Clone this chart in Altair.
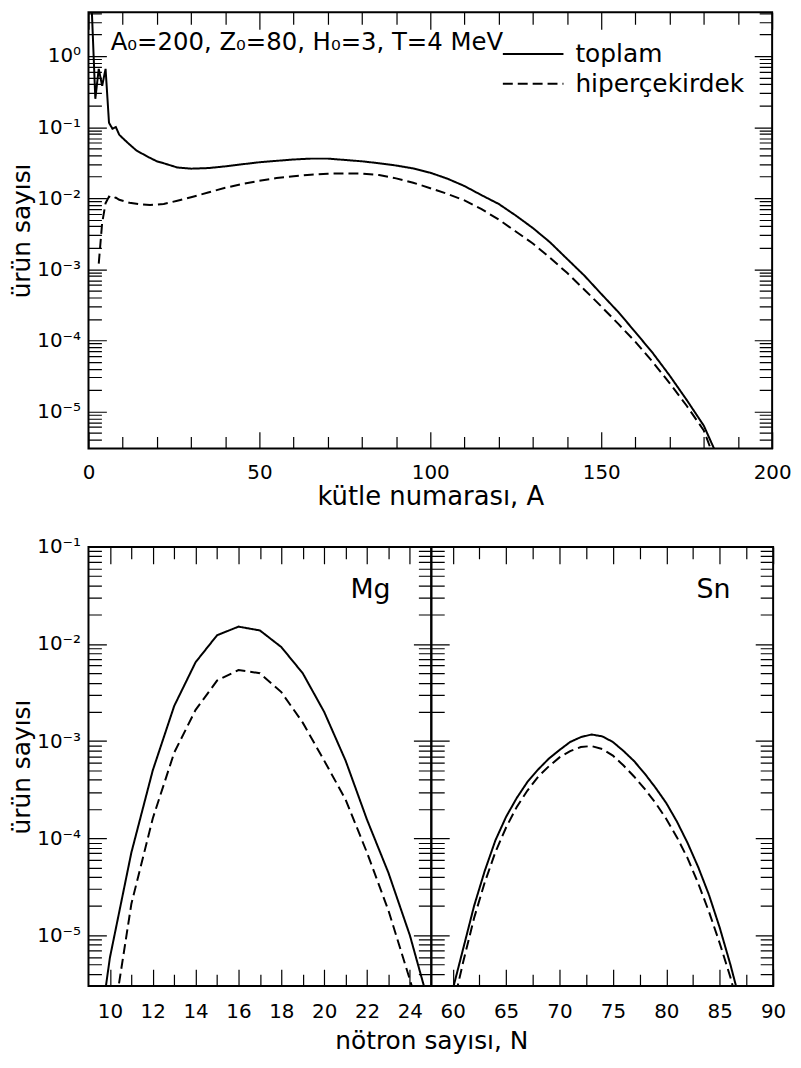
import altair as alt
import pandas as pd

FONT = "DejaVu Sans"

# ---------------- data: top panel (vs mass number A) ----------------
top_total_A = [1, 2, 3, 4, 5, 6, 7, 8, 9, 10, 12, 14, 17, 20, 22, 26, 30,
               35, 40, 45, 50, 55, 60, 65, 70, 75, 80, 85, 90, 95, 100, 105, 110,
               115, 120, 125, 130, 135, 140, 145, 150, 155, 160, 165, 170, 175, 180, 183]
top_total = [4.1, 0.25, 0.66, 0.38, 0.66, 0.115, 0.095, 0.10, 0.078, 0.07,
             0.057, 0.047, 0.039, 0.033, 0.031, 0.027, 0.026,
             0.0265, 0.028, 0.030, 0.032, 0.0335, 0.035, 0.036, 0.036, 0.0345, 0.033,
             0.031, 0.0288, 0.0262, 0.0228, 0.0188, 0.0148, 0.011, 0.0083, 0.0057, 0.0038,
             0.0024, 0.0014, 8.2e-4, 4.5e-4, 2.5e-4, 1.3e-4, 6.7e-5, 3.2e-5, 1.45e-5,
             6.3e-6, 3.0e-6]
top_hyper_A = [3, 4, 5, 6, 7, 8, 9, 10, 12, 15, 18, 22, 26, 30,
               35, 40, 45, 50, 55, 60, 65, 70, 75, 80, 85, 90, 95, 100, 105, 110,
               115, 120, 125, 130, 135, 140, 145, 150, 155, 160, 165, 170, 175, 180, 182]
top_hyper = [1.2e-3, 4.5e-3, 8.5e-3, 0.0105, 0.0098, 0.0102, 0.0095, 0.0092,
             0.0086, 0.0082, 0.0080, 0.0083, 0.0092, 0.0103,
             0.012, 0.014, 0.0158, 0.0176, 0.0192, 0.0204, 0.0214, 0.0221, 0.0223,
             0.0222, 0.0212, 0.019, 0.0165, 0.0138, 0.0115, 0.0093, 0.0070, 0.0050,
             0.0034, 0.0023, 0.00145, 8.9e-4, 5.2e-4, 3.0e-4, 1.7e-4, 9.5e-5, 5.0e-5,
             2.5e-5, 1.2e-5, 5.4e-6, 3.0e-6]

# ---------------- data: Mg isotopes (vs neutron number N) ----------------
mg_total_N = list(range(9, 26))
mg_total = [1.6e-7, 5.9e-6, 7.1e-5, 5.0e-4, 2.3e-3, 6.5e-3, 1.23e-2, 1.51e-2,
            1.38e-2, 9.3e-3, 5.0e-3, 2.0e-3, 6.3e-4, 1.55e-4, 4.4e-5, 1.0e-5, 1.6e-6]
mg_hyper_N = list(range(10, 26))
mg_hyper = [7.9e-7, 2.1e-5, 1.6e-4, 7.6e-4, 2.1e-3, 4.2e-3, 5.4e-3, 5.0e-3,
            3.2e-3, 1.55e-3, 6.3e-4, 2.5e-4, 7.1e-5, 1.8e-5, 3.5e-6, 6.3e-7]

# ---------------- data: Sn isotopes ----------------
sn_total_N = list(range(59, 88))
sn_total = [7.9e-7, 2.75e-6, 7.4e-6, 2.0e-5, 4.6e-5,
            9.5e-5, 1.66e-4, 2.6e-4, 3.8e-4, 5.1e-4, 6.6e-4, 8.1e-4, 9.8e-4, 1.10e-3, 1.17e-3,
            1.12e-3, 9.8e-4, 7.9e-4, 6.2e-4, 4.6e-4, 3.3e-4, 2.3e-4, 1.48e-4, 8.9e-5,
            5.0e-5, 2.6e-5, 1.2e-5, 5.0e-6, 1.9e-6]
sn_hyper_N = list(range(60, 88))
sn_hyper = [1.8e-6, 5.4e-6, 1.5e-5, 3.5e-5, 7.2e-5, 1.29e-4, 2.1e-4, 3.1e-4, 4.3e-4,
            5.5e-4, 6.8e-4, 7.9e-4, 8.7e-4, 8.9e-4, 8.3e-4, 7.1e-4, 5.6e-4, 4.3e-4,
            3.2e-4, 2.3e-4, 1.58e-4, 1.02e-4, 6.2e-5, 3.4e-5, 1.74e-5, 8.3e-6, 3.7e-6, 1.4e-6]

series_names = ["toplam", "hiperçekirdek"]
annotation = "A₀=200, Z₀=80, H₀=3, T=4 MeV"
panel_labels = ["Mg", "Sn"]

# tick values
top_x_ticks = list(range(0, 201, 10))
mg_x_ticks = list(range(10, 25))
sn_x_ticks = [60 + 2.5 * i for i in range(13)]
top_y_ticks = [m * 10.0 ** e for e in range(-6, 1) for m in range(1, 10)
               if 3.05e-6 < m * 10.0 ** e < 4.1]
bot_y_ticks = [m * 10.0 ** e for e in range(-6, 0) for m in range(1, 10)
               if 3.05e-6 < m * 10.0 ** e < 0.101]

# ---------------- geometry ----------------
TOP_W, TOP_H = 688, 439
MG_W, SN_W, BOT_H = 345, 344, 442
LABEL_SIZE = 20

IS_DECADE = "abs(log(datum.value)/LN10 - round(log(datum.value)/LN10)) < 0.01"
DECADE_LABEL = ("abs(log(datum.value)/LN10 - round(log(datum.value)/LN10)) < 0.01 ? "
                "'10' + ['⁰','⁻¹','⁻²','⁻³','⁻⁴','⁻⁵','⁻⁶'][-round(log(datum.value)/LN10)] : ''")


def dash(length, tick):
    return [tick, length - 2 * tick, tick]


def common_axis_kw(major_test):
    return dict(domain=False, ticks=False, grid=True, gridColor="black", gridOpacity=1,
                gridWidth=1.2, labelFont=FONT,
                labelFontSize={"condition": {"test": major_test, "value": LABEL_SIZE},
                               "value": 0},
                labelColor="black", labelFlush=False, labelOverlap=False, titleFont=FONT,
                titleFontWeight="normal", titleColor="black")


def y_axis(width, values, labels=True, title=None):
    kw = common_axis_kw(IS_DECADE)
    kw.update(values=values, tickCount=len(values),
              gridDash={"condition": {"test": IS_DECADE, "value": dash(width, 18)},
                        "value": dash(width, 13)},
              labels=labels, labelExpr=DECADE_LABEL, labelPadding=8,
              titlePadding=2, titleFontSize=25, title=title)
    return alt.Axis(**kw)


def x_axis(values, major_test, height, title=None, label_pad=15, title_pad=2,
           title_size=26, title_x=None):
    kw = common_axis_kw(major_test)
    kw.update(values=values, tickCount=len(values),
              gridDash={"condition": {"test": major_test, "value": dash(height, 17)},
                        "value": dash(height, 12)},
              labelExpr=f"({major_test}) ? datum.label : ''",
              labelPadding=label_pad, titlePadding=title_pad, titleFontSize=title_size,
              title=title)
    if title_x is not None:
        kw["titleX"] = title_x
        kw["titleAlign"] = "center"
    return alt.Axis(**kw)


dash_scale = alt.Scale(domain=series_names, range=[[1, 0], [10, 5]])

# ---------------- top panel ----------------
top_df = pd.concat([
    pd.DataFrame({"A": top_total_A, "y": top_total, "s": series_names[0]}),
    pd.DataFrame({"A": top_hyper_A, "y": top_hyper, "s": series_names[1]}),
])
top_x = alt.X("A:Q", scale=alt.Scale(domain=[0, 200], nice=False, zero=False),
              axis=x_axis(top_x_ticks, "datum.value % 50 == 0", TOP_H,
                          title="kütle numarası, A", label_pad=14, title_pad=1))
top_y = alt.Y("y:Q", scale=alt.Scale(type="log", domain=[3e-6, 4.12], nice=False),
              axis=y_axis(TOP_W, top_y_ticks, title="ürün sayısı"))

top_lines = alt.Chart(top_df).mark_line(color="black", strokeWidth=2, clip=True).encode(
    x=top_x, y=top_y,
    strokeDash=alt.StrokeDash(
        "s:N", scale=dash_scale,
        legend=alt.Legend(orient="none", legendX=416, legendY=27, title=None,
                          symbolType="stroke", symbolSize=3721, symbolStrokeWidth=2,
                          symbolStrokeColor="black", labelFont=FONT, labelFontSize=25,
                          labelColor="black", labelOffset=11, clipHeight=30,
                          rowPadding=0, padding=0, labelLimit=400)),
)

annot_df = pd.DataFrame({"A": [6.5], "y": [1.22], "t": [annotation]})
top_text = alt.Chart(annot_df).mark_text(
    align="left", baseline="alphabetic", font=FONT, fontSize=24.5, color="black"
).encode(x=top_x, y=top_y, text="t:N")

top = alt.layer(top_lines, top_text).properties(width=TOP_W, height=TOP_H)

# ---------------- bottom panels ----------------
bot_y_scale = alt.Scale(type="log", domain=[3e-6, 0.1], nice=False)

mg_df = pd.concat([
    pd.DataFrame({"N": mg_total_N, "y": mg_total, "s": series_names[0]}),
    pd.DataFrame({"N": mg_hyper_N, "y": mg_hyper, "s": series_names[1]}),
])
mg_x = alt.X("N:Q", scale=alt.Scale(domain=[9, 25], nice=False, zero=False),
             axis=x_axis(mg_x_ticks, "datum.value % 2 == 0", BOT_H,
                         title="nötron sayısı, N", label_pad=16, title_pad=7,
                         title_size=25, title_x=MG_W))
mg_y = alt.Y("y:Q", scale=bot_y_scale, axis=y_axis(MG_W, bot_y_ticks, title="ürün sayısı"))
mg_lines = alt.Chart(mg_df).mark_line(color="black", strokeWidth=2, clip=True).encode(
    x=mg_x, y=mg_y,
    strokeDash=alt.StrokeDash("s:N", scale=dash_scale, legend=None),
)
mg_text = alt.Chart(pd.DataFrame({"N": [23.1], "y": [0.036], "t": [panel_labels[0]]})).mark_text(
    align="right", baseline="middle", font=FONT, fontSize=27, color="black"
).encode(x=mg_x, y=mg_y, text="t:N")
mg = alt.layer(mg_lines, mg_text).properties(width=MG_W, height=BOT_H)

sn_df = pd.concat([
    pd.DataFrame({"N": sn_total_N, "y": sn_total, "s": series_names[0]}),
    pd.DataFrame({"N": sn_hyper_N, "y": sn_hyper, "s": series_names[1]}),
])
sn_x = alt.X("N:Q", scale=alt.Scale(domain=[58, 90], nice=False, zero=False),
             axis=x_axis(sn_x_ticks, "datum.value % 5 == 0", BOT_H, label_pad=16))
sn_y = alt.Y("y:Q", scale=bot_y_scale, axis=y_axis(SN_W, bot_y_ticks, labels=False))
sn_lines = alt.Chart(sn_df).mark_line(color="black", strokeWidth=2, clip=True).encode(
    x=sn_x, y=sn_y,
    strokeDash=alt.StrokeDash("s:N", scale=dash_scale, legend=None),
)
sn_text = alt.Chart(pd.DataFrame({"N": [86.0], "y": [0.036], "t": [panel_labels[1]]})).mark_text(
    align="right", baseline="middle", font=FONT, fontSize=27, color="black"
).encode(x=sn_x, y=sn_y, text="t:N")
sn = alt.layer(sn_lines, sn_text).properties(width=SN_W, height=BOT_H)

bottom = alt.hconcat(mg, sn, spacing=0, bounds="flush").resolve_scale(
    strokeDash="independent")

chart = alt.vconcat(top, bottom, spacing=99, bounds="flush", padding=0,
                    background="white").resolve_scale(
    strokeDash="independent"
).configure_view(
    stroke="black", strokeWidth=2
)

chart.save("out.html", embed_options={"renderer": "svg", "actions": False})
